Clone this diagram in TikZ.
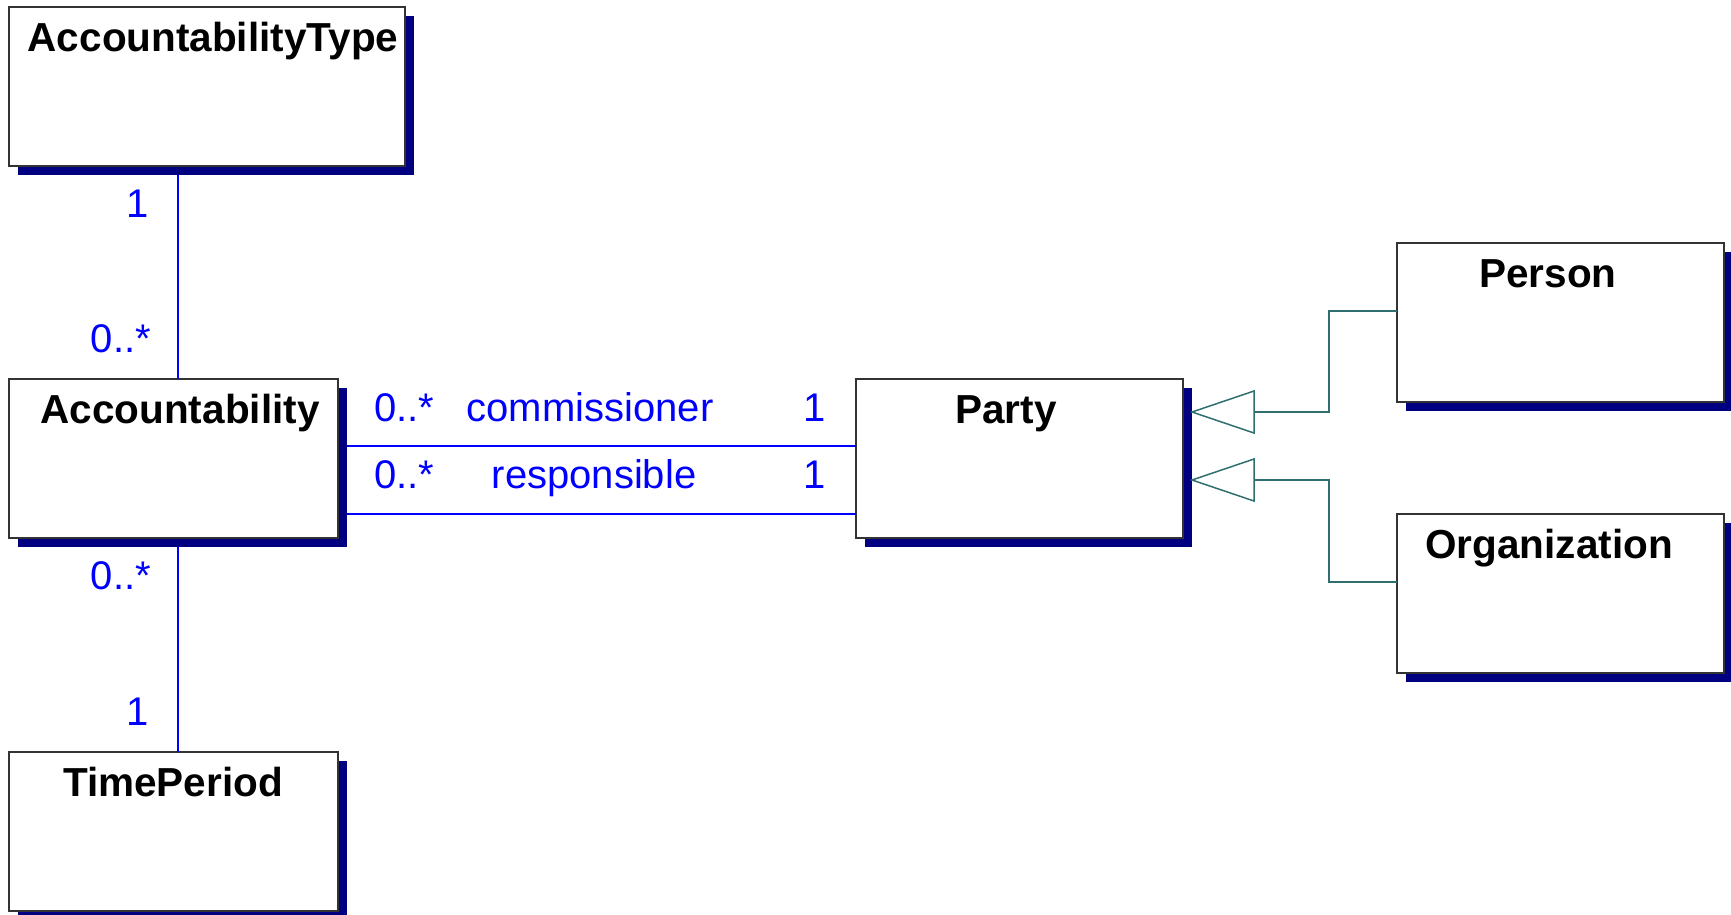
\documentclass[tikz,border=0pt]{standalone}
\usepackage{fontspec}
\setmainfont{Liberation Sans}
\usetikzlibrary{shadows}
\definecolor{umlnavy}{RGB}{0,0,128}
\definecolor{umlblue}{RGB}{0,0,255}
\definecolor{umlteal}{RGB}{47,111,111}

\begin{document}
\begin{tikzpicture}[x=1pt, y=-1pt,
  classbox/.style={draw=black!80, line width=1.5pt, fill=white, anchor=north west,
    minimum height=159pt, inner sep=0pt, outer sep=0pt,
    drop shadow={shadow xshift=9pt, shadow yshift=-9pt, fill=umlnavy, opacity=1}},
  classname/.style={font=\fontsize{40.5}{46}\selectfont\bfseries, anchor=base, inner sep=0pt},
  mult/.style={font=\fontsize{40}{46}\selectfont, text=umlblue, inner sep=0pt},
  assoc/.style={umlblue, line width=1.5pt},
  gen/.style={umlteal, line width=1.5pt}]
\useasboundingbox (0,0) rectangle (1731,914);

% classes
\node[classbox, minimum width=396pt] (acctype) at (9,7) {};
\node[classbox, minimum width=329pt] (acc) at (9,379) {};
\node[classbox, minimum width=329pt] (period) at (9,752) {};
\node[classbox, minimum width=327pt] (party) at (856,379) {};
\node[classbox, minimum width=327pt] (person) at (1397,243) {};
\node[classbox, minimum width=327pt] (org) at (1397,514) {};

\node[classname] (acctype-name) at (213,51) {AccountabilityType};
\node[classname] (acc-name) at (180,423) {Accountability};
\node[classname] (period-name) at (173,796) {TimePeriod};
\node[classname] (party-name) at (1006,423) {Party};
\node[classname] (person-name) at (1548,287) {Person};
\node[classname] (org-name) at (1549,558) {Organization};

% associations
\coordinate (type-end) at (178,175);
\coordinate (period-end) at (178,547);
\coordinate (comm-end) at (347,446);
\coordinate (resp-end) at (347,514);
\draw[assoc] (type-end) -- (type-end |- acc.north);
\draw[assoc] (period-end) -- (period-end |- period.north);
\draw[assoc] (comm-end) -- (comm-end -| party.west);
\draw[assoc] (resp-end) -- (resp-end -| party.west);

\node[mult, anchor=base east] (m-type) at (149,217) {1};
\node[mult, anchor=base east] (m-acc-up) at (151,352) {0..*};
\node[mult, anchor=base east] (m-acc-down) at (151,589) {0..*};
\node[mult, anchor=base east] (m-period) at (149,725) {1};
\node[mult, anchor=base west] (m-comm-acc) at (374,421) {0..*};
\node[mult, anchor=base] (r-comm) at (590,421) {commissioner};
\node[mult, anchor=base east] (m-comm-party) at (826,421) {1};
\node[mult, anchor=base west] (m-resp-acc) at (374,488) {0..*};
\node[mult, anchor=base] (r-resp) at (594,488) {responsible};
\node[mult, anchor=base east] (m-resp-party) at (826,488) {1};

% generalizations
\coordinate (tip1) at (1192,412);
\coordinate (tip2) at (1192,480);
\coordinate (person-in) at (1397,311);
\coordinate (org-in) at (1397,582);
\draw[gen] (tip1) -- ++(62,-21) -- ++(0,42) -- cycle;
\draw[gen] (tip2) -- ++(62,-21) -- ++(0,42) -- cycle;
\draw[gen] ([xshift=62pt]tip1) -| ([xshift=-68pt]person-in) -- (person-in);
\draw[gen] ([xshift=62pt]tip2) -| ([xshift=-68pt]org-in) -- (org-in);
\end{tikzpicture}
\end{document}
